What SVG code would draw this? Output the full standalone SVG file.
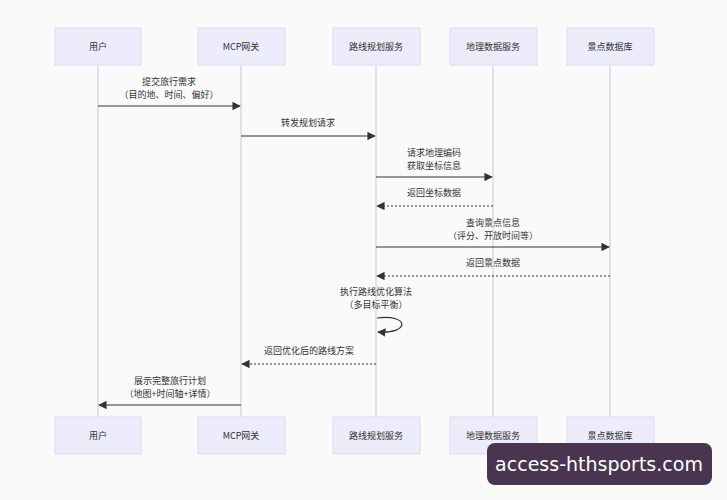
<svg xmlns="http://www.w3.org/2000/svg" width="727" height="500" viewBox="0 0 727 500">
<style>
.box{fill:#ececfa;stroke:#dcdcf0;stroke-width:1}
.life{stroke:#c8c8d4;stroke-width:1}
.t{font-family:"Noto Sans CJK SC","Noto Sans",sans-serif;font-size:9px;fill:#333;text-anchor:middle}
.m{stroke:#333;stroke-width:1.2;fill:none}
.d{stroke-dasharray:2,2}
</style>
<defs><marker id="a" viewBox="0 0 10 10" refX="9" refY="5" markerWidth="7" markerHeight="7" orient="auto-start-reverse"><path d="M0,0L10,5L0,10z" fill="#333"/></marker></defs>
<rect width="727" height="500" fill="#fafafa"/>
<g id="lifelines">
<line class="life" x1="98" y1="65" x2="98" y2="417"/><line class="life" x1="241" y1="65" x2="241" y2="417"/><line class="life" x1="376" y1="65" x2="376" y2="417"/><line class="life" x1="493" y1="65" x2="493" y2="417"/><line class="life" x1="610" y1="65" x2="610" y2="417"/>
</g>
<g id="n-user"><rect class="box" x="55" y="28" width="86" height="37"/><text class="t" x="98" y="50">用户</text><rect class="box" x="55" y="417" width="86" height="37"/><text class="t" x="98" y="439">用户</text></g>
<g id="n-mcp"><rect class="box" x="198" y="28" width="87" height="37"/><text class="t" x="241" y="50">MCP网关</text><rect class="box" x="198" y="417" width="87" height="37"/><text class="t" x="241" y="439">MCP网关</text></g>
<g id="n-route"><rect class="box" x="333" y="28" width="87" height="37"/><text class="t" x="376" y="50">路线规划服务</text><rect class="box" x="333" y="417" width="87" height="37"/><text class="t" x="376" y="439">路线规划服务</text></g>
<g id="n-geo"><rect class="box" x="450" y="28" width="87" height="37"/><text class="t" x="493" y="50">地理数据服务</text><rect class="box" x="450" y="417" width="87" height="37"/><text class="t" x="493" y="439">地理数据服务</text></g>
<g id="n-db"><rect class="box" x="567" y="28" width="87" height="37"/><text class="t" x="610" y="50">景点数据库</text><rect class="box" x="567" y="417" width="87" height="37"/><text class="t" x="610" y="439">景点数据库</text></g>
<g id="connectors">
<line class="m" x1="98" y1="106" x2="240" y2="106" marker-end="url(#a)"/>
<text class="t" x="169" y="85">提交旅行需求</text><text class="t" x="169" y="98">（目的地、时间、偏好）</text>
<line class="m" x1="241" y1="136" x2="375" y2="136" marker-end="url(#a)"/>
<text class="t" x="308" y="126">转发规划请求</text>
<line class="m" x1="376" y1="177" x2="492" y2="177" marker-end="url(#a)"/>
<text class="t" x="434" y="156">请求地理编码</text><text class="t" x="434" y="169">获取坐标信息</text>
<line class="m d" x1="493" y1="206" x2="377" y2="206" marker-end="url(#a)"/>
<text class="t" x="434" y="196">返回坐标数据</text>
<line class="m" x1="376" y1="247" x2="609" y2="247" marker-end="url(#a)"/>
<text class="t" x="493" y="226">查询景点信息</text><text class="t" x="493" y="239">（评分、开放时间等）</text>
<line class="m d" x1="610" y1="276" x2="377" y2="276" marker-end="url(#a)"/>
<text class="t" x="493" y="266">返回景点数据</text>
<text class="t" x="376" y="295">执行路线优化算法</text><text class="t" x="376" y="308">（多目标平衡）</text>
<path class="m" d="M377,318 C410,314 410,334 378,332" marker-end="url(#a)"/>
<line class="m d" x1="376" y1="364" x2="242" y2="364" marker-end="url(#a)"/>
<text class="t" x="309" y="354">返回优化后的路线方案</text>
<line class="m" x1="241" y1="405" x2="99" y2="405" marker-end="url(#a)"/>
<text class="t" x="170" y="384">展示完整旅行计划</text><text class="t" x="170" y="397">（地图+时间轴+详情）</text>
</g>
<g id="watermark"><rect x="487" y="443" width="225" height="42" rx="8" fill="#4a3550"/><text x="599" y="471" font-family="DejaVu Sans,sans-serif" font-size="19" fill="#fff" text-anchor="middle">access-hthsports.com</text></g>
</svg>
